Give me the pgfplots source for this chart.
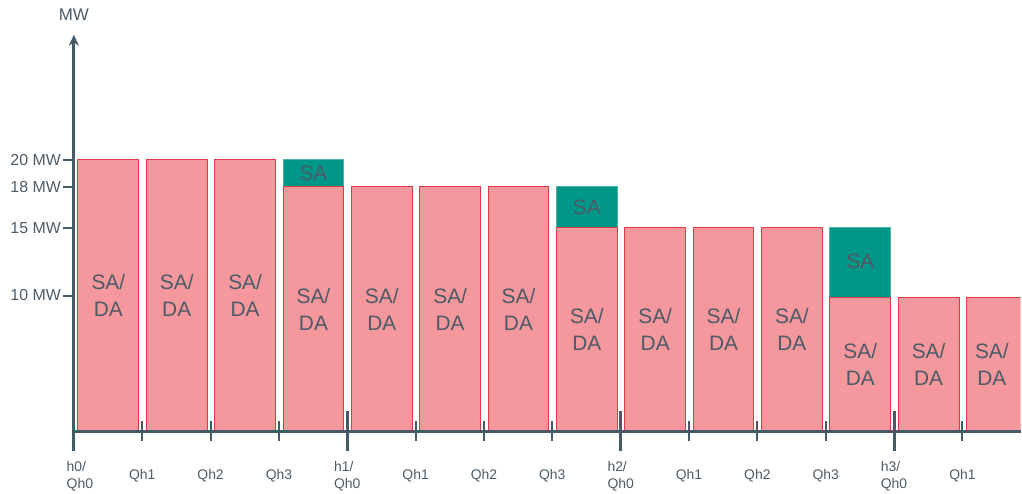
\documentclass[border=0pt]{standalone}
\usepackage{pgfplots}
\pgfplotsset{compat=1.18}
\usepackage{fontspec}
\setmainfont{Liberation Sans}
\usetikzlibrary{arrows.meta}
\definecolor{pinkf}{HTML}{F4989E}
\definecolor{pinkb}{HTML}{DC3A45}
\definecolor{tealf}{HTML}{009688}
\definecolor{tealb}{HTML}{4DB6AC}
\definecolor{axc}{HTML}{455A64}
\definecolor{txt}{HTML}{4C5B66}
\tikzset{
  lab/.style={align=center, text=txt, font=\fontsize{21}{27}\selectfont, inner sep=0pt},
  xl/.style={text=txt, font=\fontsize{14}{17}\selectfont, align=left, inner sep=0pt},
}
\begin{document}
\begin{tikzpicture}
\begin{axis}[
  width=948.2bp, height=397.1bp, scale only axis,
  xmin=0, xmax=13.85, ymin=0, ymax=29.2,
  hide axis, clip=true,
]
\addplot[ybar, bar width=0.89, bar shift=0, fill=tealf, draw=tealb, line width=1bp]
  coordinates {(3.505,20) (7.505,18) (11.505,15)};
\addplot[ybar, bar width=0.89, bar shift=0, fill=pinkf, draw=pinkb, line width=1bp]
  coordinates {(0.505,20) (1.505,20) (2.505,20) (3.505,18) (4.505,18) (5.505,18) (6.505,18)
               (7.505,15) (8.505,15) (9.505,15) (10.505,15) (11.505,9.85) (12.505,9.85) (13.505,9.85)};
\node[lab] at (axis cs:0.505,10) {SA/\\DA};
\node[lab] at (axis cs:1.505,10) {SA/\\DA};
\node[lab] at (axis cs:2.505,10) {SA/\\DA};
\node[lab] at (axis cs:3.505,9) {SA/\\DA};
\node[lab] at (axis cs:4.505,9) {SA/\\DA};
\node[lab] at (axis cs:5.505,9) {SA/\\DA};
\node[lab] at (axis cs:6.505,9) {SA/\\DA};
\node[lab] at (axis cs:7.505,7.5) {SA/\\DA};
\node[lab] at (axis cs:8.505,7.5) {SA/\\DA};
\node[lab] at (axis cs:9.505,7.5) {SA/\\DA};
\node[lab] at (axis cs:10.505,7.5) {SA/\\DA};
\node[lab] at (axis cs:11.505,4.925) {SA/\\DA};
\node[lab] at (axis cs:12.505,4.925) {SA/\\DA};
\node[lab] at (axis cs:13.43,4.925) {SA/\\DA};
\node[lab] at (axis cs:3.505,19) {SA};
\node[lab] at (axis cs:7.505,16.5) {SA};
\node[lab] at (axis cs:11.505,12.5) {SA};
\coordinate (O) at (axis cs:0,0);
\end{axis}
\begin{scope}[shift={(O)}, x=68.46bp, y=13.6bp]
  \draw[axc, line width=3bp] (0,0) -- (13.85,0);
  \foreach \i in {1,2,3,5,6,7,9,10,11,13}
    \draw[axc, line width=2bp] (\i,0) ++(0,-10bp) -- ++(0,20bp);
  \foreach \i in {0,4,8,12}
    \draw[axc, line width=3bp] (\i,0) ++(0,-20bp) -- ++(0,40bp);
  \draw[axc, line width=3bp, -{Stealth[length=11bp,width=10bp]}] (0,0) -- (0,29.2);
  \foreach \v in {10,15,18,20}
    \draw[axc, line width=2bp] (0,\v) -- ++(-11bp,0)
      node[anchor=east, inner sep=1bp, text=txt, font=\fontsize{16}{19}\selectfont] {\v{} MW};
  \node[text=txt, font=\fontsize{17}{20}\selectfont] at (0,30.66) {MW};
  \node[xl] at ([xshift=6bp,yshift=-45bp]0,0) {h0/\\Qh0};
  \node[xl] at ([yshift=-45bp]4,0) {h1/\\Qh0};
  \node[xl] at ([yshift=-45bp]8,0) {h2/\\Qh0};
  \node[xl] at ([yshift=-45bp]12,0) {h3/\\Qh0};
  \foreach \i/\l in {1/Qh1,2/Qh2,3/Qh3,5/Qh1,6/Qh2,7/Qh3,9/Qh1,10/Qh2,11/Qh3,13/Qh1}
    \node[xl] at ([yshift=-45bp]\i,0) {\l};
\end{scope}
\path (O) ++(-74bp,-62bp) rectangle ++(1022bp,494bp);
\end{tikzpicture}
\end{document}
